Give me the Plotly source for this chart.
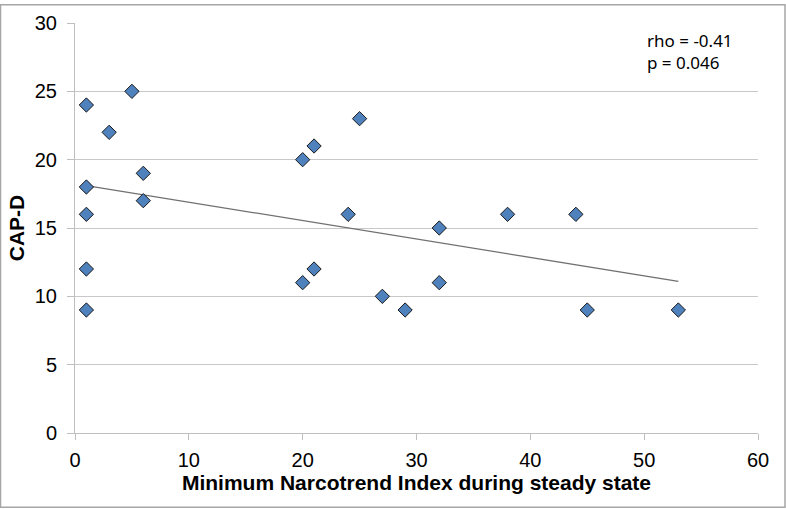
import plotly.graph_objects as go

x_vals = [1, 1, 1, 1, 1, 3, 5, 6, 6, 20, 20, 21, 21, 24, 25, 27, 29, 32, 32, 38, 44, 45, 53]
y_vals = [24, 18, 16, 12, 9, 22, 25, 19, 17, 20, 11, 21, 12, 16, 23, 10, 9, 15, 11, 16, 16, 9, 9]
trend_x = [1, 53]
trend_y = [18.1, 11.1]
x_ticks = [0, 10, 20, 30, 40, 50, 60]
y_ticks = [0, 5, 10, 15, 20, 25, 30]
stats_text = ["rho = -0.41", "p = 0.046"]
x_title = "Minimum Narcotrend Index during steady state"
y_title = "CAP-D"

fig = go.Figure()
fig.add_trace(go.Scatter(x=trend_x, y=trend_y, mode="lines",
                         line=dict(color="#707070", width=1.2), hoverinfo="skip"))
fig.add_trace(go.Scatter(x=x_vals, y=y_vals, mode="markers",
                         marker=dict(symbol="diamond", size=11, color="#4F81BD",
                                     line=dict(color="#1a1a1a", width=1))))

axis_font = dict(family="Liberation Sans, Arial, sans-serif", size=20, color="#000000")
title_font = dict(family="Liberation Sans, Arial, sans-serif", size=21, color="#000")
fig.update_layout(
    width=786, height=509,
    margin=dict(l=75, r=28, t=19, b=76),
    paper_bgcolor="white", plot_bgcolor="white",
    showlegend=False,
    xaxis=dict(range=[0, 60], tickvals=x_ticks, showgrid=False, zeroline=False,
               showline=True, linecolor="#bfbfbf", linewidth=1,
               ticks="outside", ticklen=6, tickcolor="#bfbfbf",
               tickfont=axis_font, ticklabelstandoff=3,
               title=dict(text="<b>" + x_title + "</b>", font=title_font, standoff=5)),
    yaxis=dict(range=[0, 30], tickvals=y_ticks, showgrid=True, gridcolor="#c8c8c8", gridwidth=1,
               zeroline=False, showline=True, linecolor="#bfbfbf", linewidth=1,
               ticks="outside", ticklen=7, tickcolor="#bfbfbf",
               tickfont=axis_font, ticklabelstandoff=6,
               title=dict(text="<b>" + y_title + "</b>", font=title_font, standoff=4)),
    shapes=[dict(type="rect", xref="paper", yref="paper", x0=-74.5/683, x1=1+27/683,
                 y0=-75/414, y1=1+18.5/414, line=dict(color="#a6a6a6", width=1.5))],
    annotations=[dict(x=0.835, y=0.99, xref="paper", yref="paper", xanchor="left", yanchor="top",
                      align="left", showarrow=False, text="<br>".join(stats_text),
                      font=dict(family="Noto Sans, Open Sans, sans-serif", size=17, color="#000"))],
)

fig.write_html("out.html", config={"displayModeBar": False},
               post_script="document.body.style.margin='0';document.body.style.overflow='hidden';")
